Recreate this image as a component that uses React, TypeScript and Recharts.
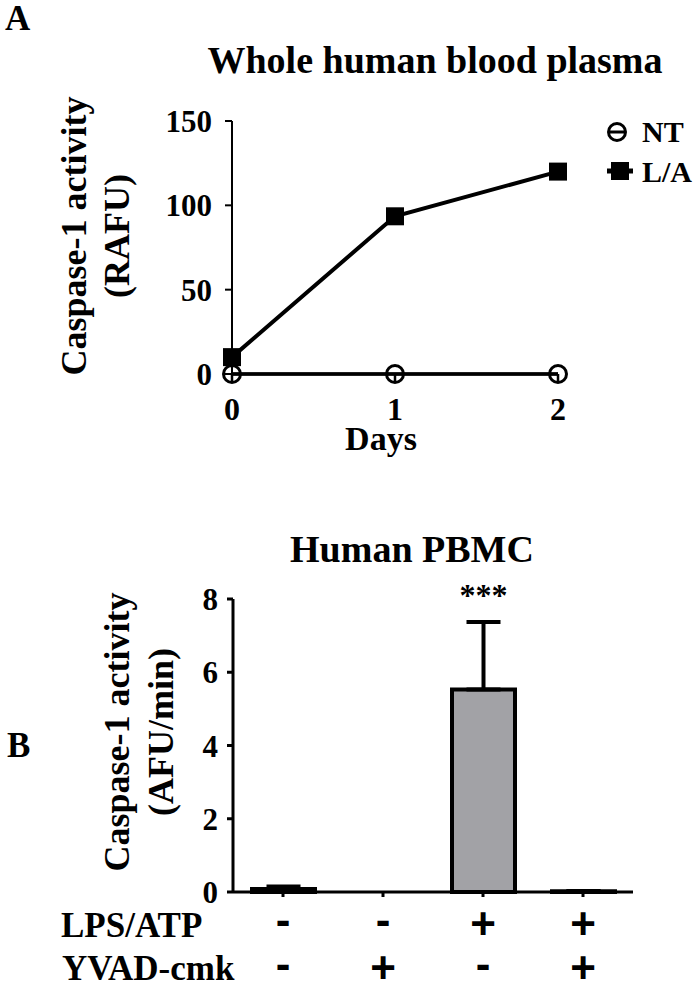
import React from "react"
import {
  LineChart,
  Line,
  XAxis,
  YAxis,
  BarChart,
  Bar,
  ErrorBar,
  LabelList,
} from "recharts"

// Panel A: whole human blood plasma
const days = [0, 1, 2]
const ntActivity = [0, 0, 0]
const laActivity = [10, 93.5, 120]
const plasmaSeries = ["NT", "L/A"]
const plasmaTicks = [0, 50, 100, 150]

// Panel B: human PBMC
const pbmcGroups = ["ctrl", "yvad", "lps-atp", "lps-atp-yvad"]
const lpsAtp = ["-", "-", "+", "+"]
const yvadCmk = ["-", "+", "-", "+"]
const pbmcMean = [0.08, 0, 5.53, 0.02]
const pbmcErr = [0.07, 0, 1.84, 0.01]
const pbmcStars = ["", "", "***", ""]
const pbmcTicks = [0, 2, 4, 6, 8]

const plasmaData = days.map((d, i) => ({
  day: d,
  nt: ntActivity[i],
  la: laActivity[i],
}))

const pbmcData = pbmcGroups.map((g, i) => ({
  group: g,
  mean: pbmcMean[i],
  err: [0, pbmcErr[i]],
  stars: pbmcStars[i],
}))

const SERIF = "'Liberation Serif', 'Times New Roman', serif"
const SANS = "'Liberation Sans', Arial, sans-serif"

function OpenCircle(props: any) {
  const { cx, cy } = props
  if (cx == null || cy == null) return null
  return (
    <g>
      <circle cx={cx} cy={cy} r={8.5} fill="none" stroke="#000" strokeWidth={3} />
      <line x1={cx} y1={cy} x2={cx} y2={cy + 8.5} stroke="#000" strokeWidth={2.5} />
    </g>
  )
}

function FilledSquare(props: any) {
  const { cx, cy } = props
  if (cx == null || cy == null) return null
  return <rect x={cx - 9} y={cy - 9} width={18} height={18} fill="#000" />
}

// two rows of +/- under each bar
function SignTick(props: any) {
  const { x, y, payload } = props
  const i = props.index ?? payload.index
  const sign = (s: string, cy: number) => (
    <text
      x={x}
      y={cy + (s === "+" ? 16 : 12)}
      textAnchor="middle"
      fontFamily={SANS}
      fontWeight="bold"
      fontSize={44}
      fill="#000"
    >
      {s}
    </text>
  )
  return (
    <g>
      {sign(lpsAtp[i], y + 26)}
      {sign(yvadCmk[i], y + 70)}
    </g>
  )
}

const tickStyle = { fontSize: 31, fontWeight: "bold", fill: "#000", fontFamily: SERIF }

export default function App() {
  return (
    <div
      style={{
        position: "absolute",
        left: 0,
        top: 0,
        width: 700,
        height: 985,
        background: "#fff",
        fontFamily: SERIF,
      }}
    >
      <div style={{ position: "absolute", left: 0, top: 0 }}>
        <LineChart
          width={700}
          height={480}
          data={plasmaData}
          margin={{ top: 121, right: 142, bottom: 46, left: 152 }}
        >
          <XAxis
            dataKey="day"
            type="number"
            domain={[0, 2]}
            ticks={days}
            height={60}
            tickLine={false}
            tickSize={0}
            tickMargin={23}
            axisLine={{ stroke: "#000", strokeWidth: 3 }}
            tick={{ ...tickStyle, fontSize: 32 }}
          />
          <YAxis
            domain={[0, 150]}
            ticks={plasmaTicks}
            width={80}
            tickSize={7}
            tickMargin={13}
            axisLine={{ stroke: "#000", strokeWidth: 2 }}
            tickLine={{ stroke: "#000", strokeWidth: 2 }}
            tick={tickStyle}
          />
          <Line
            dataKey="la"
            name={plasmaSeries[1]}
            stroke="#000"
            strokeWidth={4}
            dot={<FilledSquare />}
            activeDot={false}
            isAnimationActive={false}
          />
          <Line
            dataKey="nt"
            name={plasmaSeries[0]}
            stroke="#000"
            strokeWidth={3.5}
            dot={<OpenCircle />}
            activeDot={false}
            isAnimationActive={false}
          />
        </LineChart>
      </div>

      <div style={{ position: "absolute", left: 0, top: 500 }}>
        <BarChart
          width={700}
          height={485}
          data={pbmcData}
          margin={{ top: 99, right: 67, bottom: 3, left: 153 }}
        >
          <XAxis
            dataKey="group"
            height={90}
            interval={0}
            tickSize={5}
            tickMargin={0}
            axisLine={{ stroke: "#000", strokeWidth: 3 }}
            tickLine={{ stroke: "#000", strokeWidth: 3 }}
            tick={<SignTick />}
          />
          <YAxis
            domain={[0, 8]}
            ticks={pbmcTicks}
            width={80}
            tickSize={6}
            tickMargin={9}
            axisLine={{ stroke: "#000", strokeWidth: 3 }}
            tickLine={{ stroke: "#000", strokeWidth: 3 }}
            tick={tickStyle}
          />
          <Bar
            dataKey="mean"
            fill="#a2a2a6"
            stroke="#000"
            strokeWidth={4}
            barSize={63}
            isAnimationActive={false}
          >
            <ErrorBar
              dataKey="err"
              direction="y"
              width={17}
              stroke="#000"
              strokeWidth={4}
              isAnimationActive={false}
            />
            <LabelList
              dataKey="stars"
              position="top"
              offset={83}
              fill="#000"
              fontSize={32}
              fontWeight="bold"
              fontFamily={SERIF}
            />
          </Bar>
        </BarChart>
      </div>

      <svg
        width={700}
        height={985}
        style={{ position: "absolute", left: 0, top: 0, pointerEvents: "none" }}
        fontFamily={SERIF}
        fontWeight="bold"
        fill="#000"
      >
        <text x={5} y={30} fontSize={35}>A</text>
        <text x={435} y={73} fontSize={38} textAnchor="middle">
          Whole human blood plasma
        </text>
        <text transform="translate(86,236) rotate(-90)" fontSize={36} textAnchor="middle">
          Caspase-1 activity
        </text>
        <text transform="translate(129,236) rotate(-90)" fontSize={36} textAnchor="middle">
          (RAFU)
        </text>
        <text x={381} y={450} fontSize={34} textAnchor="middle">Days</text>

        {/* legend */}
        <circle cx={617} cy={132} r={8.5} fill="none" stroke="#000" strokeWidth={3} />
        <line x1={608} y1={132} x2={626} y2={132} stroke="#000" strokeWidth={3} />
        <text x={642} y={142} fontSize={30}>{plasmaSeries[0]}</text>
        <line x1={607} y1={171} x2={633} y2={171} stroke="#000" strokeWidth={5} />
        <rect x={611} y={162} width={18} height={18} fill="#000" />
        <text x={642} y={182} fontSize={30}>{plasmaSeries[1]}</text>

        <text x={7} y={757} fontSize={35}>B</text>
        <text x={412} y={562} fontSize={38} textAnchor="middle">Human PBMC</text>
        <text transform="translate(129,732) rotate(-90)" fontSize={36} textAnchor="middle">
          Caspase-1 activity
        </text>
        <text transform="translate(173,732) rotate(-90)" fontSize={36} textAnchor="middle">
          (AFU/min)
        </text>
        <text x={61} y={937} fontSize={35}>LPS/ATP</text>
        <text x={62} y={980} fontSize={35}>YVAD-cmk</text>
      </svg>
    </div>
  )
}
